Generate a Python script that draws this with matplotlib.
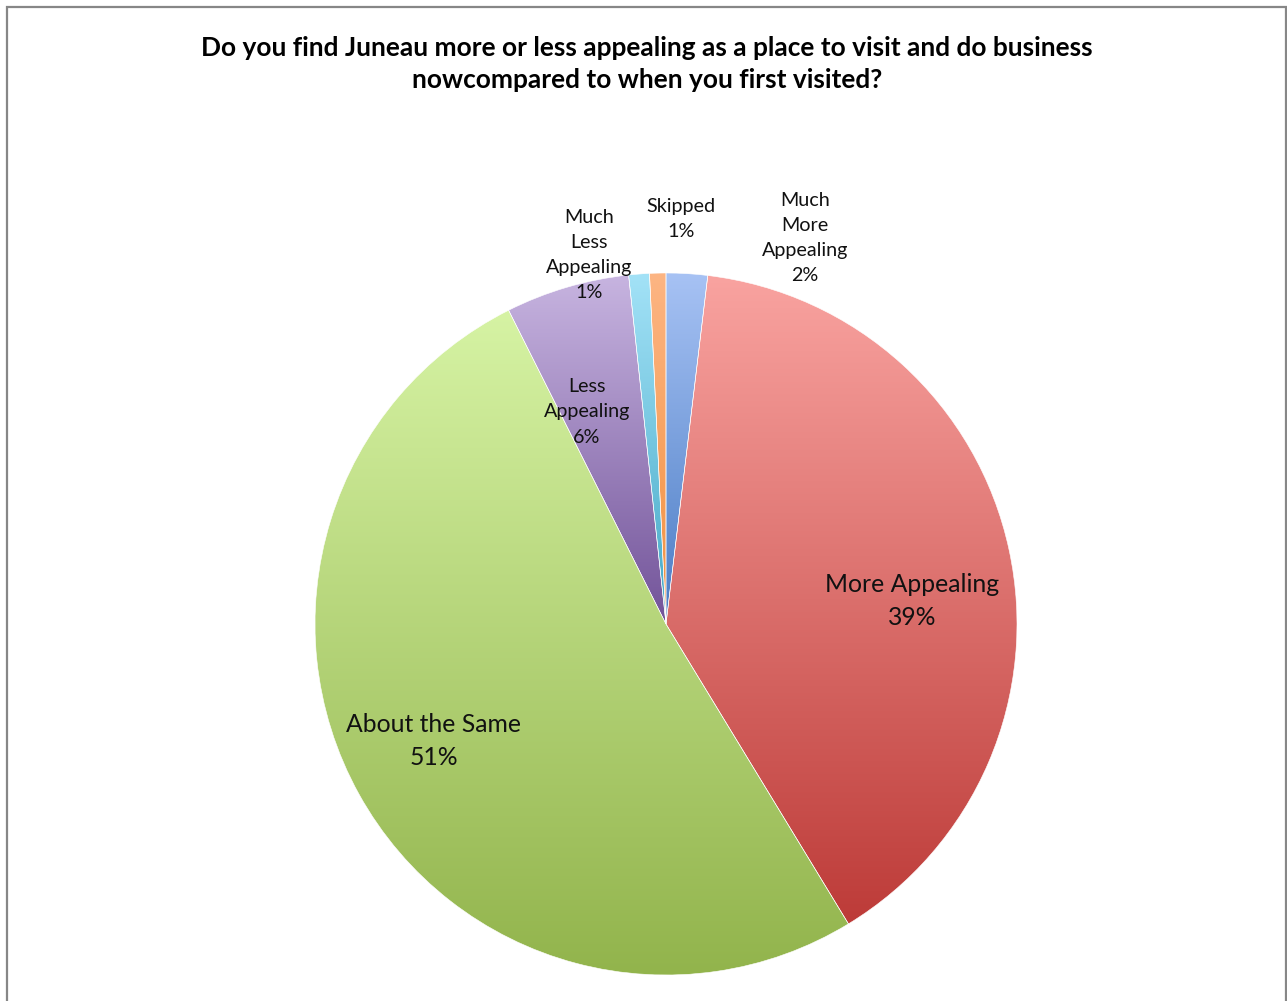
import matplotlib.pyplot as plt
import numpy as np
from matplotlib.colors import LinearSegmentedColormap

plt.rcParams['font.family'] = ['Lato', 'DejaVu Sans']

# survey answers, clockwise from 12 o'clock
categories = ['Much More Appealing', 'More Appealing', 'About the Same',
              'Less Appealing', 'Much Less Appealing', 'Skipped']
shares = [1.9, 39.4, 51.3, 5.7, 0.95, 0.75]
label_names = ['Much\nMore\nAppealing', 'More Appealing', 'About the Same',
               'Less\nAppealing', 'Much\nLess\nAppealing', 'Skipped']
pct_labels = ['2%', '39%', '51%', '6%', '1%', '1%']

# gradient ends (light top -> darker bottom) per slice
top_cols = ['#a7c2f4', '#f9a3a0', '#d6f3a4', '#c7b4e0', '#a3e2f7', '#fdb583']
bot_cols = ['#4a7cc4', '#bd3b38', '#92b44c', '#725399', '#44a8c6', '#f1903f']

W, H = 1287, 1001
fig = plt.figure(figsize=(W / 100, H / 100), dpi=100)
ax = fig.add_axes([0, 0, 1, 1])

cx, cy, r = 666, H - 624, 351
wedges, _ = ax.pie(shares, startangle=90, counterclock=False, center=(cx, cy),
                   radius=r, wedgeprops=dict(linewidth=0, facecolor='none'))

grad = np.linspace(0, 1, 256).reshape(-1, 1)
for w, c0, c1 in zip(wedges, top_cols, bot_cols):
    t = np.radians(np.linspace(w.theta1, w.theta2, 300))
    xs = np.append(cx + r * np.cos(t), cx)
    ys = np.append(cy + r * np.sin(t), cy)
    cmap = LinearSegmentedColormap.from_list('g', [c0, c1])
    im = ax.imshow(grad, cmap=cmap, extent=(xs.min(), xs.max(), ys.min(), ys.max()),
                   origin='upper', aspect='auto', zorder=1)
    im.set_clip_path(w)
    w.set_edgecolor('white')
    w.set_linewidth(0.4)
    w.set_zorder(2)

# slice labels
small = dict(ha='center', va='center', fontsize=14.2, linespacing=1.58, color='#111111')
big = dict(ha='center', va='center', fontsize=17.8, linespacing=1.55, color='#111111')
label_pos = [(805, 238, small), (912, 601, big), (434, 741, big),
             (587, 412, small), (589, 255, small), (681, 219, small)]
for name, pct, (px, py, kw) in zip(label_names, pct_labels, label_pos):
    ax.text(px, H - py, name + '\n' + pct, zorder=3, **kw)

ax.text(647, H - 64, 'Do you find Juneau more or less appealing as a place to visit and do business\n'
        'nowcompared to when you first visited?', ha='center', va='center',
        fontsize=18.9, fontweight='bold', linespacing=1.43)

# chart frame
ax.plot([7, 7, 1286, 1286], [0, H - 7, H - 7, 0], color='#878787', lw=1.6,
        solid_joinstyle='miter', zorder=4)

ax.set_xlim(0, W)
ax.set_ylim(0, H)
ax.set_aspect('equal')
ax.axis('off')
fig.savefig('out.png', dpi=100)
